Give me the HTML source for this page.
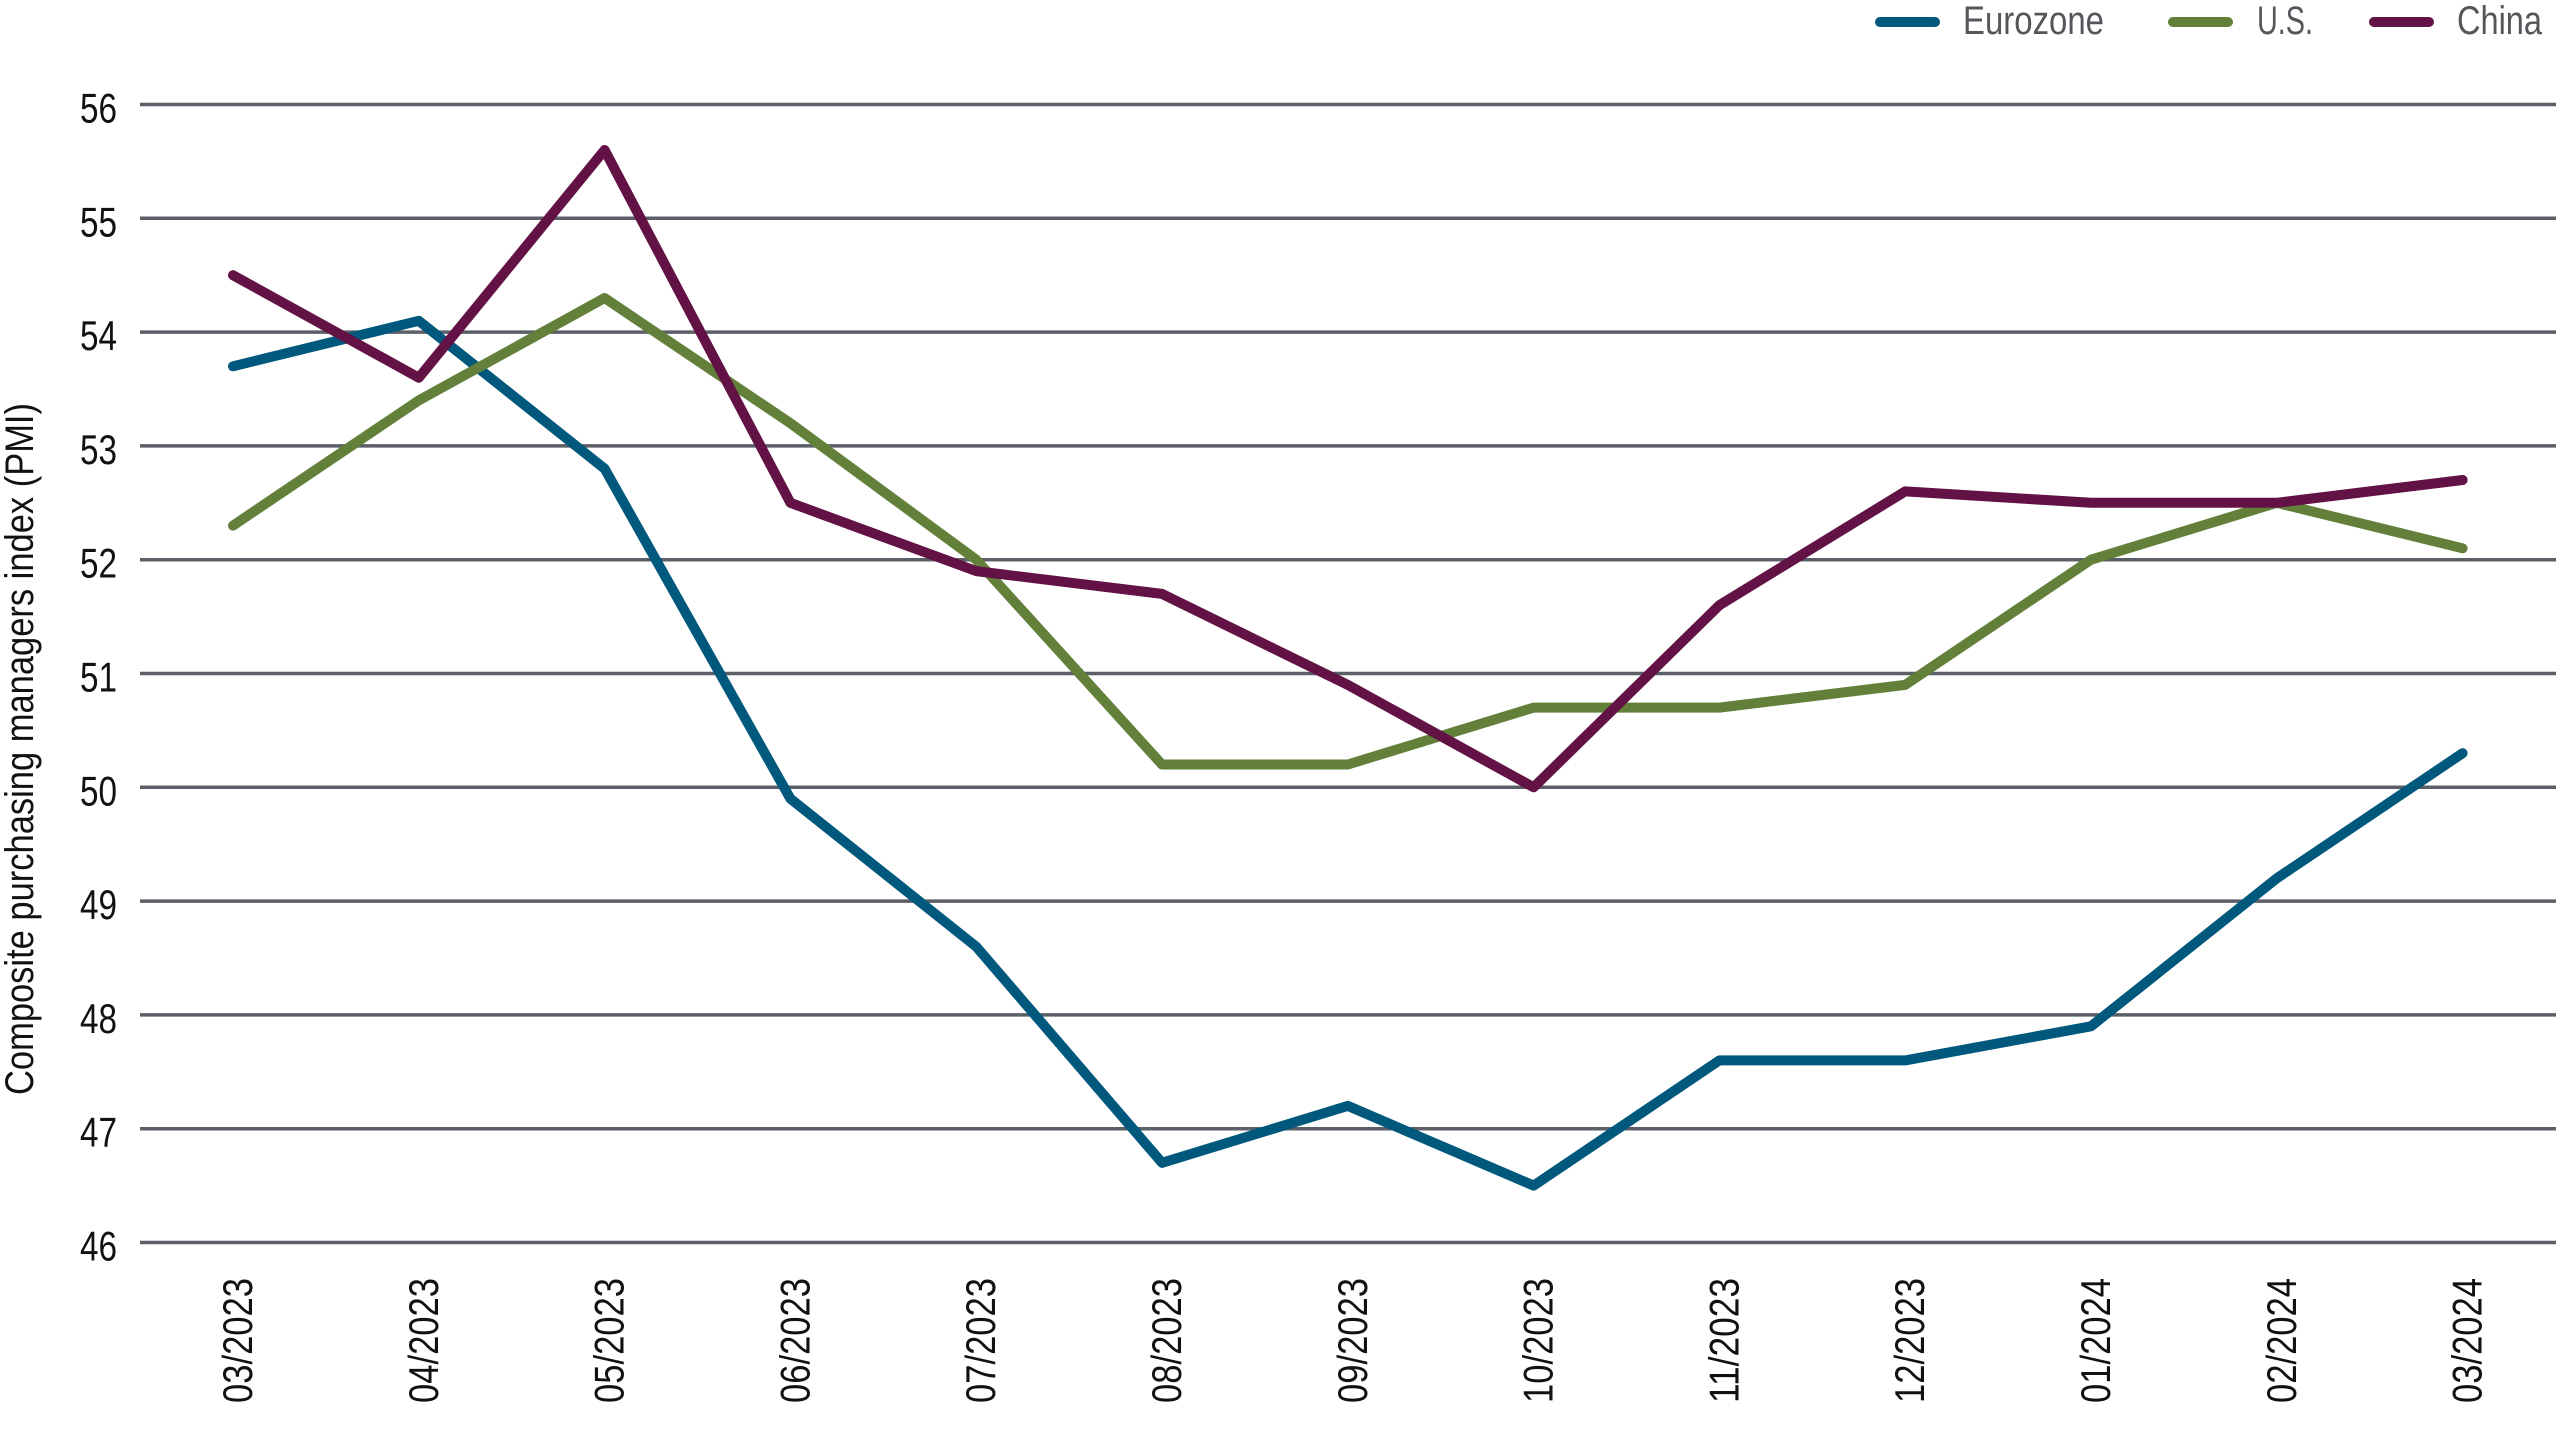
<!DOCTYPE html>
<html>
<head>
<meta charset="utf-8">
<style>
  html,body{margin:0;padding:0;background:#fff;}
  svg{display:block;}
  text{font-family:"Liberation Sans Narrow","Liberation Sans",sans-serif;}
</style>
</head>
<body>
<svg width="2560" height="1440" viewBox="0 0 2560 1440" xmlns="http://www.w3.org/2000/svg">
  <rect width="2560" height="1440" fill="#fff"/>

  <!-- gridlines -->
  <g stroke="#5b5f67" stroke-width="3.5">
    <line x1="140" y1="104.5" x2="2556" y2="104.5"/>
    <line x1="140" y1="218.3" x2="2556" y2="218.3"/>
    <line x1="140" y1="332.1" x2="2556" y2="332.1"/>
    <line x1="140" y1="445.9" x2="2556" y2="445.9"/>
    <line x1="140" y1="559.7" x2="2556" y2="559.7"/>
    <line x1="140" y1="673.5" x2="2556" y2="673.5"/>
    <line x1="140" y1="787.3" x2="2556" y2="787.3"/>
    <line x1="140" y1="901.1" x2="2556" y2="901.1"/>
    <line x1="140" y1="1014.9" x2="2556" y2="1014.9"/>
    <line x1="140" y1="1128.7" x2="2556" y2="1128.7"/>
    <line x1="140" y1="1242.5" x2="2556" y2="1242.5"/>
  </g>

  <!-- y tick labels -->
  <g font-size="42" fill="#111" text-anchor="end">
    <text x="117" y="122.5" textLength="37" lengthAdjust="spacingAndGlyphs">56</text>
    <text x="117" y="236.3" textLength="37" lengthAdjust="spacingAndGlyphs">55</text>
    <text x="117" y="350.1" textLength="37" lengthAdjust="spacingAndGlyphs">54</text>
    <text x="117" y="463.9" textLength="37" lengthAdjust="spacingAndGlyphs">53</text>
    <text x="117" y="577.7" textLength="37" lengthAdjust="spacingAndGlyphs">52</text>
    <text x="117" y="691.5" textLength="37" lengthAdjust="spacingAndGlyphs">51</text>
    <text x="117" y="805.3" textLength="37" lengthAdjust="spacingAndGlyphs">50</text>
    <text x="117" y="919.1" textLength="37" lengthAdjust="spacingAndGlyphs">49</text>
    <text x="117" y="1032.9" textLength="37" lengthAdjust="spacingAndGlyphs">48</text>
    <text x="117" y="1146.7" textLength="37" lengthAdjust="spacingAndGlyphs">47</text>
    <text x="117" y="1260.5" textLength="37" lengthAdjust="spacingAndGlyphs">46</text>
  </g>

  <!-- y axis title -->
  <text transform="translate(33,749) rotate(-90)" font-size="40" fill="#111" text-anchor="middle" textLength="692" lengthAdjust="spacingAndGlyphs">Composite purchasing managers index (PMI)</text>

  <!-- x labels -->
  <g font-size="42" fill="#111" text-anchor="end">
    <text transform="translate(252,1278) rotate(-90)" textLength="125" lengthAdjust="spacingAndGlyphs">03/2023</text>
    <text transform="translate(437.8,1278) rotate(-90)" textLength="125" lengthAdjust="spacingAndGlyphs">04/2023</text>
    <text transform="translate(623.6,1278) rotate(-90)" textLength="125" lengthAdjust="spacingAndGlyphs">05/2023</text>
    <text transform="translate(809.4,1278) rotate(-90)" textLength="125" lengthAdjust="spacingAndGlyphs">06/2023</text>
    <text transform="translate(995.2,1278) rotate(-90)" textLength="125" lengthAdjust="spacingAndGlyphs">07/2023</text>
    <text transform="translate(1181,1278) rotate(-90)" textLength="125" lengthAdjust="spacingAndGlyphs">08/2023</text>
    <text transform="translate(1366.8,1278) rotate(-90)" textLength="125" lengthAdjust="spacingAndGlyphs">09/2023</text>
    <text transform="translate(1552.6,1278) rotate(-90)" textLength="125" lengthAdjust="spacingAndGlyphs">10/2023</text>
    <text transform="translate(1738.4,1278) rotate(-90)" textLength="125" lengthAdjust="spacingAndGlyphs">11/2023</text>
    <text transform="translate(1924.2,1278) rotate(-90)" textLength="125" lengthAdjust="spacingAndGlyphs">12/2023</text>
    <text transform="translate(2110,1278) rotate(-90)" textLength="125" lengthAdjust="spacingAndGlyphs">01/2024</text>
    <text transform="translate(2295.8,1278) rotate(-90)" textLength="125" lengthAdjust="spacingAndGlyphs">02/2024</text>
    <text transform="translate(2481.6,1278) rotate(-90)" textLength="125" lengthAdjust="spacingAndGlyphs">03/2024</text>
  </g>

  <!-- series -->
  <g fill="none" stroke-width="10" stroke-linecap="round" stroke-linejoin="round">
    <polyline stroke="#00587c" points="233,366.3 418.8,320.8 604.6,468.7 790.4,798.7 976.2,946.6 1162,1162.8 1347.8,1105.9 1533.6,1185.6 1719.4,1060.4 1905.2,1060.4 2091,1026.3 2276.8,878.3 2462.6,753.2"/>
    <polyline stroke="#62803a" points="233,525.6 418.8,400.4 604.6,298.0 790.4,423.2 976.2,559.7 1162,764.5 1347.8,764.5 1533.6,707.6 1719.4,707.6 1905.2,684.9 2091,559.7 2276.8,502.8 2462.6,548.3"/>
    <polyline stroke="#621244" points="233,275.2 418.8,377.7 604.6,150.0 790.4,502.8 976.2,571.1 1162,593.9 1347.8,684.9 1533.6,787.3 1719.4,605.2 1905.2,491.4 2091,502.8 2276.8,502.8 2462.6,480.0"/>
  </g>

  <!-- legend -->
  <g stroke-width="10" stroke-linecap="round">
    <line x1="1880" y1="22" x2="1935" y2="22" stroke="#00587c"/>
    <line x1="2173" y1="22" x2="2228" y2="22" stroke="#62803a"/>
    <line x1="2374" y1="22" x2="2429" y2="22" stroke="#621244"/>
  </g>
  <g font-size="40" fill="#53575c">
    <text x="1963" y="34" textLength="141" lengthAdjust="spacingAndGlyphs">Eurozone</text>
    <text x="2257" y="34" textLength="56" lengthAdjust="spacingAndGlyphs">U.S.</text>
    <text x="2457" y="34" textLength="85" lengthAdjust="spacingAndGlyphs">China</text>
  </g>
</svg>
</body>
</html>
